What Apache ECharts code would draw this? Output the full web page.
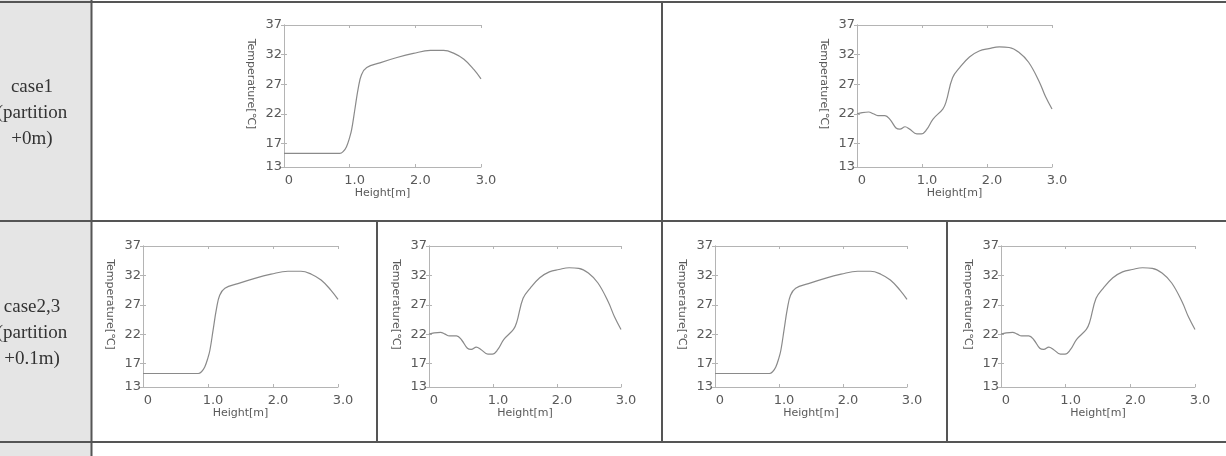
<!DOCTYPE html>
<html>
<head>
<meta charset="utf-8">
<script src="https://cdn.jsdelivr.net/npm/echarts@6/dist/echarts.min.js"></script>
<style>
  html, body { margin: 0; padding: 0; background: #fff; }
  #main { width: 1226px; height: 456px; }
</style>
</head>
<body>
<div id="main"></div>
<script>
// curve A: partition side profile
var heightA = [0, 0.5, 0.85, 0.9, 0.95, 1.0, 1.03, 1.08, 1.13, 1.18, 1.26, 1.46, 1.72, 1.97, 2.23, 2.43, 2.59, 2.74, 2.89, 3.0]
var tempA = [15.3, 15.3, 15.3, 15.6, 16.4, 18.0, 19.3, 22.8, 26.3, 28.6, 29.8, 30.6, 31.5, 32.2, 32.7, 32.7, 32.2, 31.2, 29.5, 27.9]
// curve B
var heightB = [0, 0.08, 0.18, 0.25, 0.32, 0.43, 0.51, 0.6, 0.66, 0.74, 0.81, 0.92, 0.99, 1.07, 1.17, 1.32, 1.37, 1.47, 1.58, 1.73, 1.88, 2.03, 2.19, 2.34, 2.49, 2.64, 2.8, 2.9, 3.0]
var tempB = [22.0, 22.2, 22.3, 22.0, 21.7, 21.7, 21.0, 19.6, 19.4, 19.8, 19.4, 18.6, 18.6, 19.3, 21.1, 22.8, 24.0, 28.1, 29.8, 31.6, 32.6, 33.0, 33.3, 33.2, 32.4, 30.7, 27.5, 24.9, 22.8]

var yTicks = [13, 17, 22, 27, 32, 37]
var rowLabels = [['case1', '(partition', '+0m)'], ['case2,3', '(partition', '+0.1m)']]
var panelCurves = ['A', 'B', 'A', 'B', 'A', 'B']

// plot boxes (left, top, width, height)
var boxes = [
  [284, 25, 197, 142],
  [857, 25, 195, 142],
  [143, 246, 195, 141],
  [429, 246, 192, 141],
  [715, 246, 192, 141],
  [1001, 246, 194, 141]
]

var textColor = '#595959'
var boxColor = '#b4b4b4'
var lineColor = '#8a8a8a'
var tableColor = '#555'

function pairs(xs, ys) {
  return xs.map(function (x, i) { return [x, ys[i]] })
}

var grid = []
var xAxis = []
var yAxis = []
var series = []

boxes.forEach(function (b, i) {
  grid.push({ left: b[0], top: b[1], width: b[2], height: b[3] })
  var tick = { show: true, inside: true, length: 3, lineStyle: { color: boxColor } }
  var line = { show: true, lineStyle: { color: boxColor, width: 1 } }
  xAxis.push({
    type: 'value', gridIndex: i, min: 0, max: 3, interval: 1,
    name: 'Height[m]', nameLocation: 'middle', nameGap: 20,
    nameTextStyle: { fontFamily: 'DejaVu Sans', fontSize: 11, color: textColor },
    axisLine: line, axisTick: tick, splitLine: { show: false },
    axisLabel: {
      margin: 7, fontFamily: 'DejaVu Sans', fontSize: 13, color: textColor, padding: [0, 0, 0, 10],
      formatter: function (v) { return v === 0 ? '0' : v.toFixed(1) }
    }
  })
  xAxis.push({
    type: 'value', gridIndex: i, position: 'top', min: 0, max: 3, interval: 1,
    axisLine: line, axisTick: tick, axisLabel: { show: false }, splitLine: { show: false }
  })
  yAxis.push({
    type: 'value', gridIndex: i, min: 13, max: 37,
    name: 'Temperature[℃]', nameLocation: 'middle', nameGap: 28, nameRotate: -90,
    nameTextStyle: { fontFamily: 'DejaVu Sans', fontSize: 11, color: textColor, padding: [0, 24, 0, 0] },
    axisLine: line,
    axisTick: { show: true, inside: true, length: 3, lineStyle: { color: boxColor }, customValues: yTicks },
    splitLine: { show: false },
    axisLabel: { margin: 2, fontFamily: 'DejaVu Sans', fontSize: 13, color: textColor, customValues: yTicks }
  })
  yAxis.push({
    type: 'value', gridIndex: i, position: 'right', min: 13, max: 37,
    axisLine: line,
    axisTick: { show: true, inside: true, length: 3, lineStyle: { color: boxColor }, customValues: yTicks },
    axisLabel: { show: false }, splitLine: { show: false }
  })
  var isA = panelCurves[i] === 'A'
  series.push({
    type: 'line',
    xAxisIndex: i * 2,
    yAxisIndex: i * 2,
    data: isA ? pairs(heightA, tempA) : pairs(heightB, tempB),
    smooth: 0.4,
    showSymbol: false,
    lineStyle: { color: lineColor, width: 1.2 },
    animation: false
  })
})

// table frame
var graphic = [
  { type: 'rect', shape: { x: 0, y: 0, width: 91, height: 456 }, style: { fill: '#e5e5e5' }, z: -10 },
  { type: 'line', shape: { x1: 0, y1: 2, x2: 1226, y2: 2 }, style: { stroke: tableColor, lineWidth: 2 } },
  { type: 'line', shape: { x1: 0, y1: 221, x2: 1226, y2: 221 }, style: { stroke: tableColor, lineWidth: 2 } },
  { type: 'line', shape: { x1: 0, y1: 442, x2: 1226, y2: 442 }, style: { stroke: tableColor, lineWidth: 2 } },
  { type: 'line', shape: { x1: 91.5, y1: 0, x2: 91.5, y2: 456 }, style: { stroke: tableColor, lineWidth: 2 } },
  { type: 'line', shape: { x1: 662, y1: 2, x2: 662, y2: 442 }, style: { stroke: tableColor, lineWidth: 2 } },
  { type: 'line', shape: { x1: 377, y1: 221, x2: 377, y2: 442 }, style: { stroke: tableColor, lineWidth: 2 } },
  { type: 'line', shape: { x1: 947, y1: 221, x2: 947, y2: 442 }, style: { stroke: tableColor, lineWidth: 2 } }
]
var rowTops = [87, 307]
rowLabels.forEach(function (lines, r) {
  lines.forEach(function (t, k) {
    graphic.push({
      type: 'text', x: 32, y: rowTops[r] + k * 26,
      style: {
        text: t, fill: '#333', font: '19px "Liberation Serif"',
        textAlign: 'center', textVerticalAlign: 'middle'
      }
    })
  })
})

var chart = echarts.init(document.getElementById('main'))
chart.setOption({
  animation: false,
  grid: grid,
  xAxis: xAxis,
  yAxis: yAxis,
  series: series,
  graphic: graphic
})
</script>
</body>
</html>
